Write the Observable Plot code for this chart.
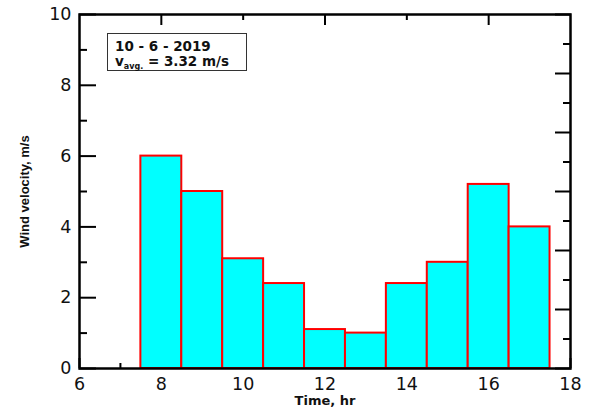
<!DOCTYPE html>
<html>
<head>
<meta charset="utf-8">
<script src="https://cdn.jsdelivr.net/npm/d3@7"></script>
<script src="https://cdn.jsdelivr.net/npm/@observablehq/plot@0.6"></script>
<style>
  body { margin: 0; background: #fff; }
  #wrap { position: relative; width: 592px; height: 411px; }
  #legend { position: absolute; left: 107px; top: 33px; width: 138px; height: 36px; border: 1.5px solid #333; box-sizing: content-box; font-family: "DejaVu Sans", sans-serif; font-weight: bold; font-size: 13.5px; line-height: 15px; color: #111; }
  #legend div { padding-left: 7px; white-space: nowrap; }
  #legend sub { font-size: 8px; vertical-align: -3px; line-height: 0; }
</style>
</head>
<body>
<div id="wrap">
  <div id="chart"></div>
  <div id="legend"><div style="margin-top:5px">10 - 6 - 2019</div><div>v<sub>avg.</sub> = 3.32 m/s</div></div>
</div>
<script>
const hours = [8, 9, 10, 11, 12, 13, 14, 15, 16, 17];
const velocity = [6.0, 5.0, 3.1, 2.4, 1.1, 1.0, 2.4, 3.0, 5.2, 4.0];
const xTickLabels = [6, 8, 10, 12, 14, 16, 18];
const yTickLabels = [0, 2, 4, 6, 8, 10];
const yMinor = [1, 3, 5, 7, 9];
const xMinor = [7, 9, 11, 13, 15, 17];
const topLong = [8, 12, 16];
const topShort = [10, 14];
const rightDivisions = 12;

const data = hours.map((h, i) => ({hour: h, v: velocity[i]}));
const rightMajor = d3.range(0, rightDivisions + 1, 2).map(k => k * 10 / rightDivisions);
const rightMinor = d3.range(1, rightDivisions, 2).map(k => k * 10 / rightDivisions);

const tickFont = "DejaVu Sans, sans-serif";
const chart = Plot.plot({
  width: 592,
  height: 411,
  marginLeft: 79,
  marginRight: 22,
  marginTop: 14,
  marginBottom: 43,
  style: {fontFamily: "Liberation Sans, Arial, sans-serif", background: "white"},
  x: {domain: [6, 18]},
  y: {domain: [0, 10]},
  marks: [
    Plot.axisY({ticks: yTickLabels, tickSize: 0, tickPadding: 8, fontSize: 17.5, fontFamily: tickFont, label: null, fill: "#111"}),
    Plot.axisX({ticks: xTickLabels, tickSize: 0, tickPadding: 9, fontSize: 17.5, fontFamily: tickFont, label: null, fill: "#111"}),
    Plot.axisY({ticks: yTickLabels, tickSize: -17, fill: "none", strokeWidth: 2, label: null}),
    Plot.axisY({ticks: yMinor, tickSize: -8, fill: "none", strokeWidth: 2, label: null}),
    Plot.axisY({anchor: "right", ticks: rightMajor, tickSize: -16, fill: "none", strokeWidth: 2, label: null}),
    Plot.axisY({anchor: "right", ticks: rightMinor, tickSize: -8, fill: "none", strokeWidth: 2, label: null}),
    Plot.axisX({anchor: "top", ticks: topLong, tickSize: -10, fill: "none", strokeWidth: 2, label: null}),
    Plot.axisX({anchor: "top", ticks: topShort, tickSize: -5, fill: "none", strokeWidth: 2, label: null}),
    Plot.axisX({ticks: xMinor, tickSize: -5, fill: "none", strokeWidth: 2, label: null}),
    Plot.axisX({ticks: xTickLabels, tickSize: -10, fill: "none", strokeWidth: 2, label: null}),
    Plot.rectY(data, {x1: d => d.hour - 0.5, x2: d => d.hour + 0.5, y1: 0, y2: "v", fill: "#00ffff", stroke: "#ff0000", strokeWidth: 2}),
    Plot.frame({stroke: "#000", strokeWidth: 2.5}),
    Plot.text(["Wind velocity, m/s"], {frameAnchor: "left", textAnchor: "middle", dx: -55, rotate: -90, fontSize: 13, fontWeight: "bold", fill: "#111"}),
    Plot.text(["Time, hr"], {frameAnchor: "bottom", dy: 36.5, fontSize: 13, fontWeight: "bold", fontFamily: tickFont, fill: "#111"})
  ]
});
document.getElementById("chart").appendChild(chart);
</script>
</body>
</html>
